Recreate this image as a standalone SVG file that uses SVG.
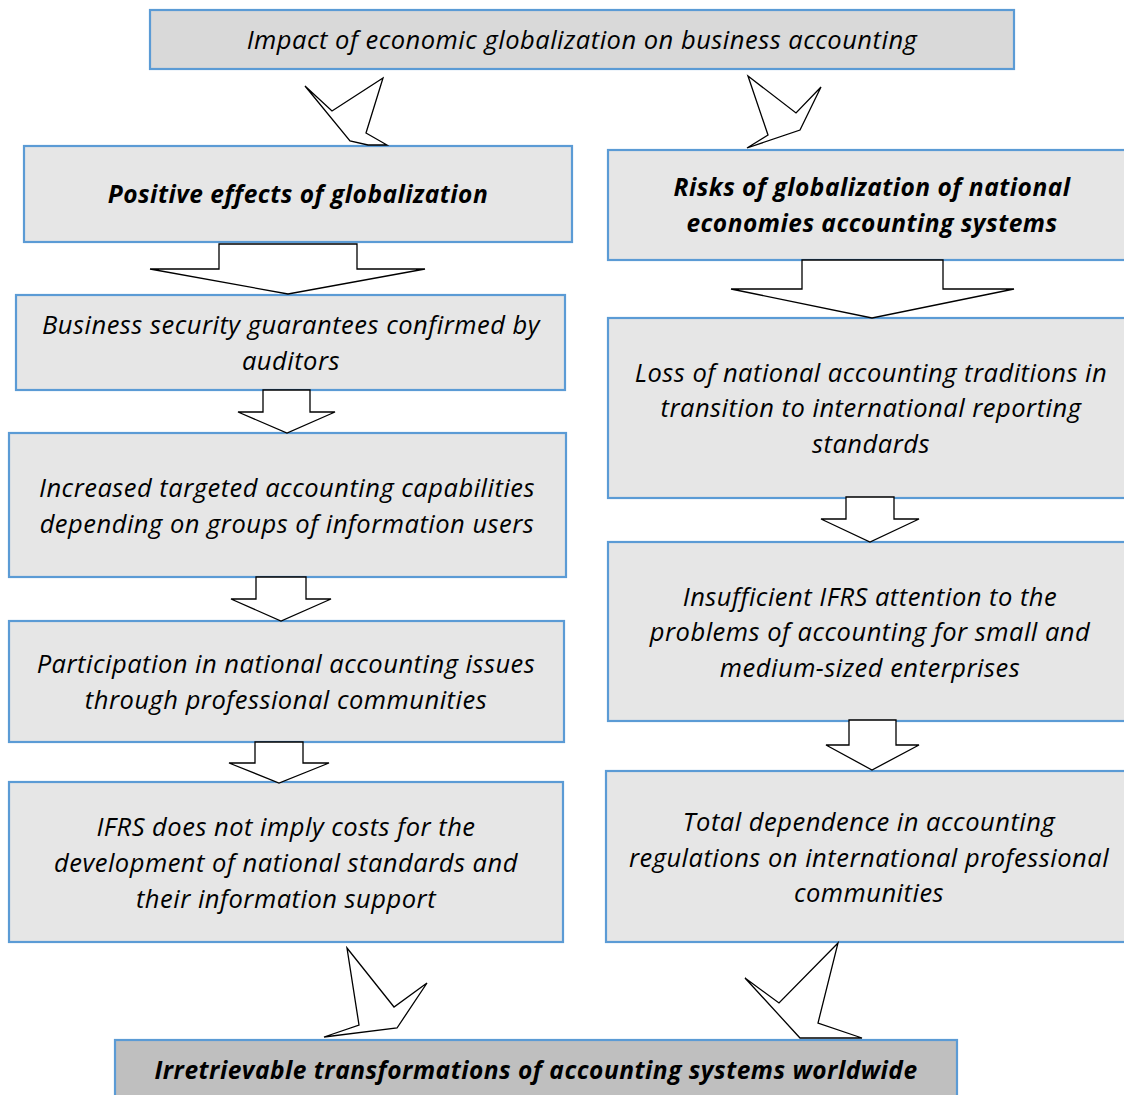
<svg xmlns="http://www.w3.org/2000/svg" width="1124" height="1095" viewBox="0 0 1124 1095">
<style>
.box{stroke:#5b9bd5;stroke-width:2.2;fill:#e6e6e6}
.top{fill:#d9d9d9}
.bot{fill:#bfbfbf}
.t{font-family:"Open Sans","Liberation Sans",Arial,sans-serif;font-style:italic;font-size:25.5px;letter-spacing:0.5px;fill:#000;text-anchor:middle}
.b{font-weight:bold;font-size:24.5px}
.arr{fill:#fff;stroke:#000;stroke-width:1.3;stroke-linejoin:miter}
</style>
<rect width="1124" height="1095" fill="#fff"/>
<g id="n-top"><rect class="box top" x="150" y="10" width="864" height="59"/><text class="t" x="582" y="49">Impact of economic globalization on business accounting</text></g>
<g id="n-positive"><rect class="box" x="24" y="146" width="548" height="96"/><text class="t b" x="298" y="203">Positive effects of globalization</text></g>
<g id="n-risks"><rect class="box" x="608" y="150" width="520" height="110"/><text class="t b" x="872" y="196">Risks of globalization of national</text><text class="t b" x="872" y="232">economies accounting systems</text></g>
<g id="n-security"><rect class="box" x="16" y="295" width="549" height="95"/><text class="t" x="291" y="334">Business security guarantees confirmed by</text><text class="t" x="291" y="370">auditors</text></g>
<g id="n-increased"><rect class="box" x="9" y="433" width="557" height="144"/><text class="t" x="287" y="497">Increased targeted accounting capabilities</text><text class="t" x="287" y="533">depending on groups of information users</text></g>
<g id="n-participation"><rect class="box" x="9" y="621" width="555" height="121"/><text class="t" x="286" y="673">Participation in national accounting issues</text><text class="t" x="286" y="709">through professional communities</text></g>
<g id="n-ifrs"><rect class="box" x="9" y="782" width="554" height="160"/><text class="t" x="286" y="836">IFRS does not imply costs for the</text><text class="t" x="286" y="872">development of national standards and</text><text class="t" x="286" y="908">their information support</text></g>
<g id="n-loss"><rect class="box" x="608" y="318" width="520" height="180"/><text class="t" x="871" y="382">Loss of national accounting traditions in</text><text class="t" x="871" y="417">transition to international reporting</text><text class="t" x="871" y="453">standards</text></g>
<g id="n-insufficient"><rect class="box" x="608" y="542" width="520" height="179"/><text class="t" x="870" y="606">Insufficient IFRS attention to the</text><text class="t" x="870" y="641">problems of accounting for small and</text><text class="t" x="870" y="677">medium-sized enterprises</text></g>
<g id="n-total"><rect class="box" x="606" y="771" width="522" height="171"/><text class="t" x="869" y="831">Total dependence in accounting</text><text class="t" x="869" y="867">regulations on international professional</text><text class="t" x="869" y="902">communities</text></g>
<g id="n-bottom"><rect class="box bot" x="115" y="1040" width="842" height="60"/><text class="t b" x="536" y="1079">Irretrievable transformations of accounting systems worldwide</text></g>
<g id="connectors">
<polygon class="arr" points="305,86 332,111 383,78 366,133 387,145 368,145 350,141"/>
<polygon class="arr" points="748,76 796,113 821,87 800,130 747,148 768,135"/>
<polygon class="arr" points="219,244 357,244 357,269 425,269 288,294 150,269 219,269"/>
<polygon class="arr" points="802,260 943,260 943,289 1014,289 872,318 731,289 802,289"/>
<polygon class="arr" points="263,390 310,390 310,412 335,412 287,433 238,412 263,412"/>
<polygon class="arr" points="256,577 306,577 306,599 331,599 281,621 231,599 256,599"/>
<polygon class="arr" points="255,742 303,742 303,763 329,763 279,783 229,763 255,763"/>
<polygon class="arr" points="846,497 894,497 894,519 919,519 870,542 821,519 846,519"/>
<polygon class="arr" points="849,720 896,720 896,745 919,745 872,770 826,745 849,745"/>
<polygon class="arr" points="347,948 394,1007 427,983 397,1028 324,1037 359,1025"/>
<polygon class="arr" points="838,943 779,1003 745,978 800,1038 862,1038 818,1023"/>
</g>
</svg>
